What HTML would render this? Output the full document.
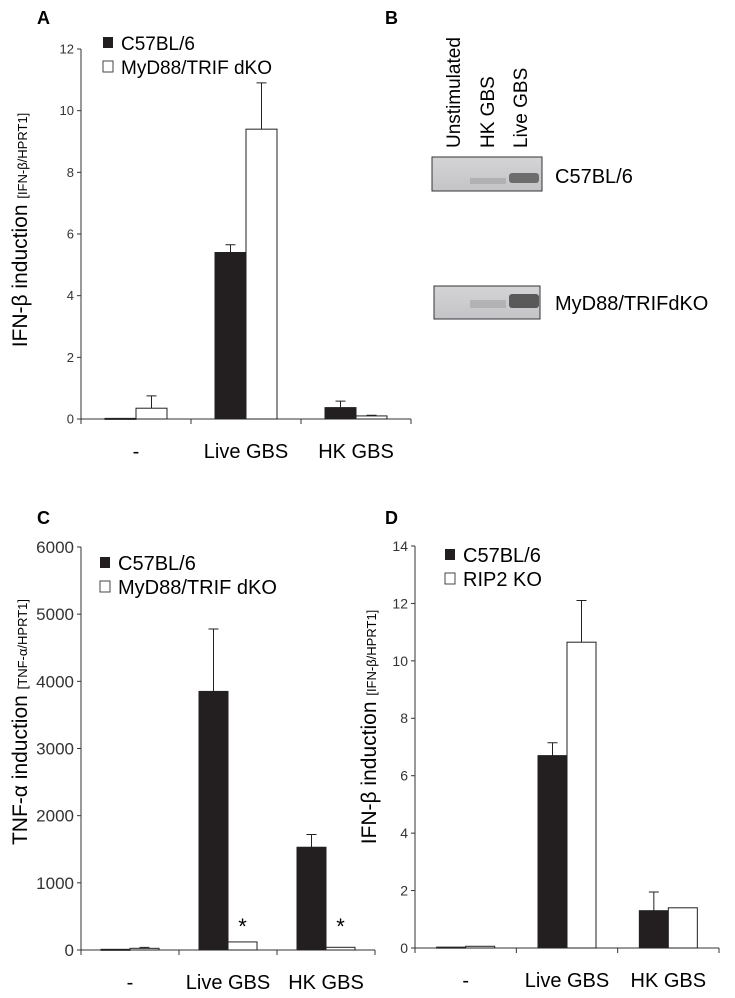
<!DOCTYPE html>
<html><head><meta charset="utf-8"><style>
body{margin:0;background:#fff}
svg{display:block;font-family:"Liberation Sans",sans-serif}
</style></head><body>
<svg id="fig" width="735" height="998" viewBox="0 0 735 998" xmlns="http://www.w3.org/2000/svg">
<defs>
<linearGradient id="lane" x1="0" y1="0" x2="0" y2="1"><stop offset="0" stop-color="#d4d4d6"/><stop offset="1" stop-color="#c4c4c8"/></linearGradient>
</defs>
<g font-weight="bold" font-size="18">
<text x="37" y="24">A</text>
<text x="385" y="24">B</text>
<text x="37" y="524">C</text>
<text x="385" y="524">D</text>
</g>
<g id="blot">
<text transform="translate(460,148) rotate(-90)" font-size="19">Unstimulated</text>
<text transform="translate(494,148) rotate(-90)" font-size="19">HK GBS</text>
<text transform="translate(527,148) rotate(-90)" font-size="19">Live GBS</text>
<rect x="432" y="157" width="110" height="34" fill="url(#lane)" stroke="#333"/>
<rect x="470" y="178" width="36" height="6" fill="#999" opacity="0.5"/>
<rect x="509" y="173" width="30" height="10" fill="#555" opacity="0.8" rx="3"/>
<text x="555" y="183" font-size="20">C57BL/6</text>
<rect x="434" y="286" width="106" height="33" fill="url(#lane)" stroke="#333"/>
<rect x="470" y="300" width="36" height="8" fill="#999" opacity="0.5"/>
<rect x="509" y="294" width="30" height="14" fill="#444" opacity="0.85" rx="3"/>
<text x="555" y="310" font-size="20">MyD88/TRIFdKO</text>
</g>
</svg>
<script>
const categories = ["-", "Live GBS", "HK GBS"];
const aBlack = [0.02, 5.4, 0.37], aBlackErr = [0, 0.25, 0.21];
const aWhite = [0.35, 9.4, 0.1], aWhiteErr = [0.4, 1.5, 0.02];
const aTicks = [0, 2, 4, 6, 8, 10, 12];
const cBlack = [10, 3850, 1530], cBlackErr = [0, 930, 190];
const cWhite = [25, 120, 40], cWhiteErr = [15, 0, 0];
const cTicks = [0, 1000, 2000, 3000, 4000, 5000, 6000];
const dBlack = [0.03, 6.7, 1.3], dBlackErr = [0, 0.45, 0.65];
const dWhite = [0.06, 10.65, 1.4], dWhiteErr = [0, 1.45, 0];
const dTicks = [0, 2, 4, 6, 8, 10, 12, 14];

const svg = document.getElementById('fig');
const NS = 'http://www.w3.org/2000/svg';
function mk(tag, attrs, parent) {
  const e = document.createElementNS(NS, tag);
  for (const k in attrs) e.setAttribute(k, attrs[k]);
  parent.appendChild(e); return e;
}
function panel(p) {
  const g = mk('g', {}, svg);
  
  
  const ymax = p.ticks[p.ticks.length - 1];
  const y = v => p.y0 - (v / ymax) * (p.y0 - p.yTop);
  const gw = (p.xEnd - p.x0) / categories.length;
  const cx = i => p.x0 + gw * (i + 0.5);
  // axes
  const ya = mk('line', {x1: p.x0, y1: p.yTop, x2: p.x0, y2: p.y0, stroke: '#333', 'stroke-width': 1}, g);
  
  
  const xa = mk('line', {x1: p.x0, y1: p.y0, x2: p.xEnd, y2: p.y0, stroke: '#333', 'stroke-width': 1}, g);
  
  
  p.ticks.forEach(t => {
    mk('line', {x1: p.x0 - 4, x2: p.x0, y1: y(t), y2: y(t), stroke: '#333'}, g);
    const tl = mk('text', {x: p.x0 - 7, y: y(t) + p.tickFs * 0.35, 'text-anchor': 'end', 'font-size': p.tickFs, fill: '#333'}, g);
    tl.textContent = t;
    
    
  });
  for (let i = 0; i <= categories.length; i++) {
    const xx = p.x0 + gw * i;
    mk('line', {x1: xx, x2: xx, y1: p.y0, y2: p.y0 + 5, stroke: '#333'}, g);
  }
  categories.forEach((c, i) => {
    const t = mk('text', {x: cx(i), y: p.y0 + 39, 'text-anchor': 'middle', 'font-size': 20}, g);
    t.textContent = c;
    
    
  });
  const bw = p.bw;
  [[p.black, p.blackErr, '#231f20', -1], [p.white, p.whiteErr, '#fff', 0]].forEach(([vals, errs, fill, off], si) => {
    vals.forEach((v, i) => {
      const bx = cx(i) + off * bw;
      const r = mk('rect', {x: bx, y: y(v), width: bw, height: Math.max(1, p.y0 - y(v)), fill: fill, stroke: '#222', 'stroke-width': 1}, g);
      
      
      if (errs[i] > 0) {
        const m = bx + bw / 2;
        const el = mk('path', {d: `M${m},${y(v)}V${y(v + errs[i])}M${m - 5},${y(v + errs[i])}H${m + 5}`, stroke: '#222', fill: 'none'}, g);
        
        
      }
      if (p.stars && si === 1 && i > 0) {
        const s = mk('text', {x: bx + bw / 2, y: p.y0 - 16, 'text-anchor': 'middle', 'font-size': 22}, g);
        s.textContent = '*';
        
        
      }
    });
  });
  // legend
  const lg = mk('g', {}, g);
  
  
  mk('rect', {x: p.lx, y: p.ly - 13, width: 10, height: 11, fill: '#231f20'}, lg);
  mk('rect', {x: p.lx, y: p.ly + 11, width: 10, height: 11, fill: '#fff', stroke: '#444'}, lg);
  const l1 = mk('text', {x: p.lx + 18, y: p.ly, 'font-size': p.legFs}, lg);
  l1.textContent = 'C57BL/6';
  
  
  const l2 = mk('text', {x: p.lx + 18, y: p.ly + 24, 'font-size': p.legFs}, lg);
  l2.textContent = p.ko;
  
  
  // y title
  const tt = mk('text', {transform: `translate(${p.tx},${p.ty}) rotate(-90)`, 'text-anchor': 'middle', 'font-size': 21}, g);
  tt.innerHTML = p.title + ' <tspan font-size="13">' + p.sub + '</tspan>';
  
  
}
panel({name: 'chart-a', x0: 81, xEnd: 411, y0: 419, yTop: 49, ticks: aTicks, tickFs: 13, bw: 31,
  black: aBlack, blackErr: aBlackErr, white: aWhite, whiteErr: aWhiteErr,
  lx: 103, ly: 50, legFs: 19, ko: 'MyD88/TRIF dKO', tx: 27, ty: 230, title: 'IFN-β induction', sub: '[IFN-β/HPRT1]'});
panel({name: 'chart-c', x0: 81, xEnd: 375, y0: 950, yTop: 547, ticks: cTicks, tickFs: 17, bw: 29,
  black: cBlack, blackErr: cBlackErr, white: cWhite, whiteErr: cWhiteErr, stars: true,
  lx: 100, ly: 570, legFs: 20, ko: 'MyD88/TRIF dKO', tx: 27, ty: 722, title: 'TNF-α induction', sub: '[TNF-α/HPRT1]'});
panel({name: 'chart-d', x0: 415, xEnd: 719, y0: 948, yTop: 546, ticks: dTicks, tickFs: 14, bw: 29,
  black: dBlack, blackErr: dBlackErr, white: dWhite, whiteErr: dWhiteErr,
  lx: 445, ly: 562, legFs: 20, ko: 'RIP2 KO', tx: 376, ty: 727, title: 'IFN-β induction', sub: '[IFN-β/HPRT1]'});
</script>
</body></html>
